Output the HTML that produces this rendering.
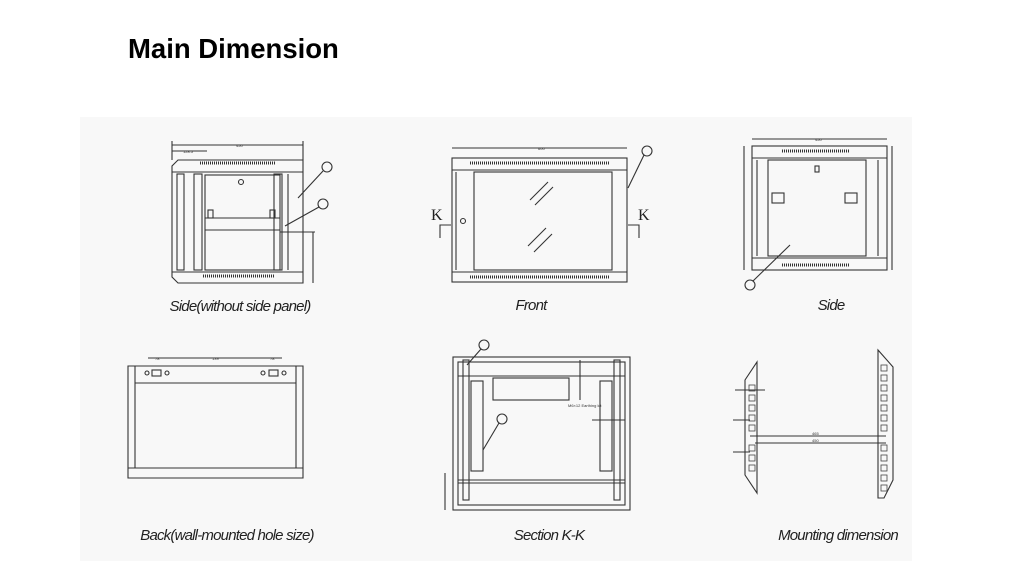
<!DOCTYPE html>
<html><head><meta charset="utf-8"><style>
html,body{margin:0;padding:0;background:#fff;width:1024px;height:577px;overflow:hidden}
.t{position:absolute;left:128px;top:33px;font:bold 27.5px "Liberation Sans",sans-serif;color:#000}
svg{position:absolute;left:0;top:0}
.l{font-family:"Liberation Sans",sans-serif;font-style:italic;font-size:15px;fill:#222;letter-spacing:-0.8px}
.s{font-family:"Liberation Sans",sans-serif;font-size:4px;fill:#333}
</style></head><body>
<div class="t">Main Dimension</div>
<svg width="1024" height="577" viewBox="0 0 1024 577">
<rect x="80" y="117" width="832" height="444" fill="#f8f8f8"/>
<g fill="none" stroke="#333" stroke-width="1.1">
<line x1="172" y1="145" x2="303" y2="145"/><line x1="172" y1="141" x2="172" y2="160"/><line x1="303" y1="141" x2="303" y2="160"/>
<line x1="172" y1="151" x2="207" y2="151"/>
<path d="M178 160 H303 V283 H178 L172 277 V166 Z"/>
<line x1="172" y1="172" x2="303" y2="172"/><line x1="172" y1="272" x2="303" y2="272"/>
<rect x="177" y="174" width="7" height="96"/><rect x="194" y="174" width="8" height="96"/>
<rect x="205" y="175" width="75" height="95"/>
<line x1="205" y1="218" x2="280" y2="218"/><line x1="205" y1="230" x2="280" y2="230"/>
<rect x="274" y="174" width="8" height="96"/><line x1="288" y1="174" x2="288" y2="270"/>
<line x1="280" y1="232" x2="315" y2="232"/><line x1="313" y1="232" x2="313" y2="283"/>
<circle cx="241" cy="182" r="2.5"/>
<rect x="208" y="210" width="5" height="8"/><rect x="270" y="210" width="5" height="8"/>
<circle cx="327" cy="167" r="5"/><circle cx="323" cy="204" r="5"/>
<line x1="323" y1="171" x2="298" y2="198"/><line x1="319" y1="207" x2="285" y2="226"/>
<line x1="452" y1="148" x2="627" y2="148"/>
<rect x="452" y="158" width="175" height="124"/>
<line x1="452" y1="170" x2="627" y2="170"/><line x1="452" y1="272" x2="627" y2="272"/>
<rect x="474" y="172" width="138" height="98"/>
<line x1="456" y1="172" x2="456" y2="270"/>
<circle cx="463" cy="221" r="2.5"/>
<line x1="530" y1="200" x2="548" y2="182"/><line x1="535" y1="205" x2="553" y2="187"/>
<line x1="528" y1="246" x2="546" y2="228"/><line x1="534" y1="252" x2="552" y2="234"/>
<path d="M451 225 H440 V238"/><path d="M628 225 H639 V238"/>
<circle cx="647" cy="151" r="5"/><line x1="644" y1="155" x2="628" y2="188"/>
<line x1="752" y1="139" x2="887" y2="139"/>
<line x1="744" y1="146" x2="744" y2="270"/>
<rect x="752" y="146" width="135" height="124"/>
<line x1="752" y1="158" x2="887" y2="158"/><line x1="752" y1="258" x2="887" y2="258"/>
<rect x="768" y="160" width="98" height="96"/>
<line x1="878" y1="160" x2="878" y2="256"/><line x1="757" y1="160" x2="757" y2="256"/>
<rect x="772" y="193" width="12" height="10"/><rect x="845" y="193" width="12" height="10"/>
<rect x="815" y="166" width="4" height="6"/>
<line x1="892" y1="146" x2="892" y2="270"/>
<circle cx="750" cy="285" r="5"/><line x1="753" y1="281" x2="790" y2="245"/>
<line x1="148" y1="358" x2="282" y2="358"/>
<path d="M128 366 H303 V478 H128 Z"/>
<line x1="135" y1="366" x2="135" y2="468"/><line x1="296" y1="366" x2="296" y2="468"/>
<line x1="135" y1="383" x2="296" y2="383"/><line x1="128" y1="468" x2="303" y2="468"/>
<circle cx="147" cy="373" r="2"/><circle cx="167" cy="373" r="2"/><rect x="152" y="370" width="9" height="6"/>
<circle cx="263" cy="373" r="2"/><circle cx="284" cy="373" r="2"/><rect x="269" y="370" width="9" height="6"/>
<rect x="453" y="357" width="177" height="153"/>
<rect x="458" y="362" width="167" height="143"/>
<line x1="458" y1="376" x2="625" y2="376"/><line x1="458" y1="480" x2="625" y2="480"/>
<line x1="458" y1="483" x2="625" y2="483"/>
<rect x="463" y="360" width="6" height="140"/><rect x="614" y="360" width="6" height="140"/>
<rect x="471" y="381" width="12" height="90"/><rect x="600" y="381" width="12" height="90"/>
<rect x="493" y="378" width="76" height="22"/>
<line x1="580" y1="360" x2="580" y2="400"/><line x1="592" y1="420" x2="625" y2="420"/>
<circle cx="484" cy="345" r="5"/><line x1="481" y1="349" x2="467" y2="365"/>
<circle cx="502" cy="419" r="5"/><line x1="499" y1="423" x2="483" y2="450"/>
<line x1="445" y1="473" x2="445" y2="510"/>
<path d="M757 362 V493 L745 475 V380 Z"/>
<path d="M878 350 V498 H884 L893 480 V367 Z"/>
<line x1="750" y1="436" x2="886" y2="436"/><line x1="755" y1="443" x2="886" y2="443"/>
<line x1="733" y1="420" x2="750" y2="420"/><line x1="733" y1="452" x2="750" y2="452"/>
<line x1="735" y1="390" x2="765" y2="390"/>
</g>
<g fill="none" stroke="#444" stroke-width="0.8">
<rect x="749" y="385" width="6" height="6"/><rect x="749" y="395" width="6" height="6"/><rect x="749" y="405" width="6" height="6"/><rect x="749" y="415" width="6" height="6"/><rect x="749" y="425" width="6" height="6"/><rect x="749" y="445" width="6" height="6"/><rect x="749" y="455" width="6" height="6"/><rect x="749" y="465" width="6" height="6"/>
<rect x="881" y="365" width="6" height="6"/><rect x="881" y="375" width="6" height="6"/><rect x="881" y="385" width="6" height="6"/><rect x="881" y="395" width="6" height="6"/><rect x="881" y="405" width="6" height="6"/><rect x="881" y="415" width="6" height="6"/><rect x="881" y="425" width="6" height="6"/><rect x="881" y="445" width="6" height="6"/><rect x="881" y="455" width="6" height="6"/><rect x="881" y="465" width="6" height="6"/><rect x="881" y="475" width="6" height="6"/><rect x="881" y="485" width="6" height="6"/>
</g>
<g stroke="#333" stroke-width="3" stroke-dasharray="1 1">
<line x1="200" y1="163" x2="275" y2="163"/><line x1="203" y1="276" x2="275" y2="276"/>
<line x1="470" y1="163" x2="610" y2="163"/><line x1="470" y1="277" x2="610" y2="277"/>
<line x1="782" y1="151" x2="850" y2="151"/><line x1="782" y1="265" x2="850" y2="265"/>
</g>
<text x="236" y="147" class="s">450</text><text x="183" y="153" class="s">128.5</text>
<text x="538" y="150" class="s">600</text><text x="815" y="141" class="s">450</text>
<text x="155" y="360" class="s">78</text><text x="212" y="360" class="s">139</text><text x="270" y="360" class="s">78</text>
<text x="812" y="435" class="s">465</text><text x="812" y="442" class="s">450</text>
<text x="568" y="407" class="s">M6×12  Earthing kit</text>
<text x="431" y="220" font-family="Liberation Serif" font-size="16" fill="#222">K</text>
<text x="638" y="220" font-family="Liberation Serif" font-size="16" fill="#222">K</text>
<text x="240" y="311" class="l" text-anchor="middle">Side(without side panel)</text>
<text x="531" y="310" class="l" text-anchor="middle">Front</text>
<text x="831" y="310" class="l" text-anchor="middle">Side</text>
<text x="227" y="540" class="l" text-anchor="middle">Back(wall-mounted hole size)</text>
<text x="549" y="540" class="l" text-anchor="middle">Section K-K</text>
<text x="838" y="540" class="l" text-anchor="middle">Mounting dimension</text>
</svg>
</body></html>
